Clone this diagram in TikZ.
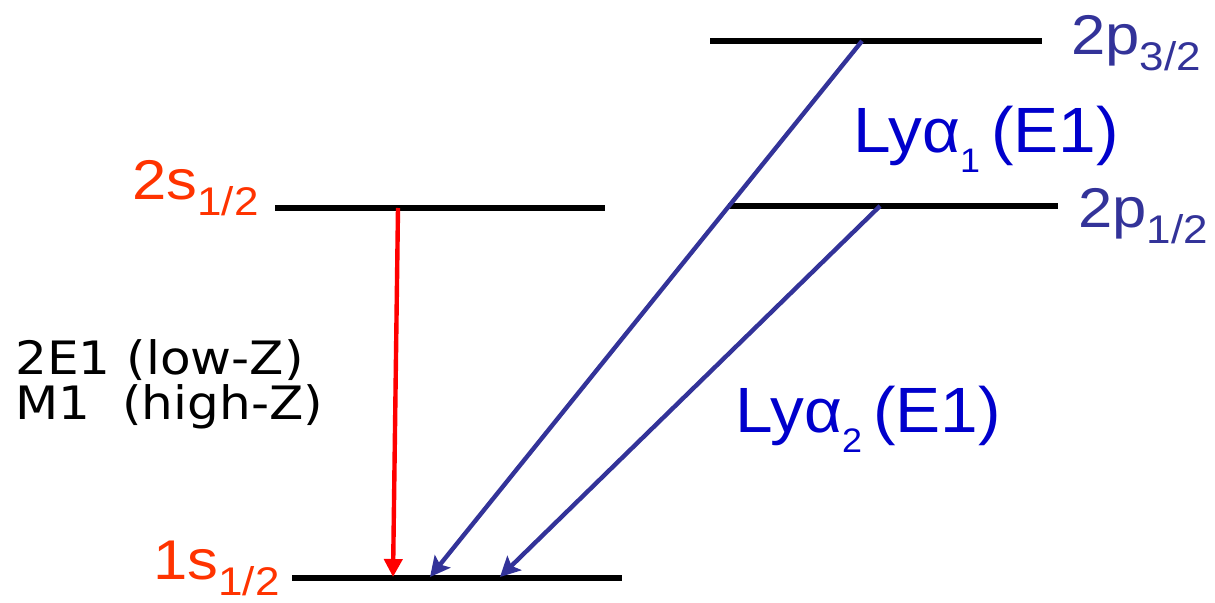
\documentclass[tikz,border=0pt]{standalone}
\usepackage{fontspec}
\usepackage{tikz}
\usetikzlibrary{arrows.meta}
\newfontfamily\arialfont{Liberation Sans}
\newfontfamily\verdfont{DejaVu Sans}
\definecolor{levred}{HTML}{FF3300}
\definecolor{levblue}{HTML}{333399}
\definecolor{lyblue}{HTML}{0000CC}
\newcommand{\lsub}[1]{\raisebox{-0.28em}{\fontsize{20}{22}\selectfont #1}}
\newcommand{\lysub}[1]{\raisebox{-0.3em}{\fontsize{17}{18}\selectfont #1}}

\begin{document}
\begin{tikzpicture}[x=0.5pt,y=-0.5pt,>=Stealth,
    level/.style={line width=3pt},
    trans/.style={->,line width=2.2pt},
    lab/.style={inner sep=0pt,anchor=base west,xscale=1.1,font=\arialfont\fontsize{28}{30}\selectfont}]
    \useasboundingbox (0,0) rectangle (1215,603);
    % levels
    \coordinate (s1l) at (292,578);  \coordinate (s1r) at (622,578);
    \coordinate (s2l) at (275,208);  \coordinate (s2r) at (605,208);
    \coordinate (pal) at (728,206);  \coordinate (par) at (1058,206);
    \coordinate (pbl) at (710,41);   \coordinate (pbr) at (1042,41);
    \draw [level] (s1l) -- (s1r);
    \draw [level] (s2l) -- (s2r);
    \draw [level] (pal) -- (par);
    \draw [level] (pbl) -- (pbr);
    % level labels
    \node [lab,text=levred] (s1lab) at (153,580) {1s\lsub{1/2}};
    \node [lab,text=levred] (s2lab) at (132,200) {2s\lsub{1/2}};
    \node [lab,text=levblue] (palab) at (1078,228) {2p\lsub{1/2}};
    \node [lab,text=levblue] (pblab) at (1071,55) {2p\lsub{3/2}};
    % transitions
    \coordinate (rtop) at (398,208);  \coordinate (rbot) at (393,577);
    \coordinate (atop) at (862,41);   \coordinate (abot) at (430,577);
    \coordinate (btop) at (880,206);  \coordinate (bbot) at (500,577);
    \draw [trans,red,-{Triangle[length=9pt,width=9pt]}] (rtop) -- (rbot);
    \draw [trans,levblue,-{Stealth[length=10pt,width=10pt,inset=2pt]}] (atop) -- (abot);
    \draw [trans,levblue,-{Stealth[length=10pt,width=10pt,inset=2pt]}] (btop) -- (bbot);
    % transition labels
    \node [lab,xscale=0.96,text=lyblue,font=\arialfont\fontsize{32}{34}\selectfont] (lya) at (853,153) {Ly{\fontsize{31}{32}\selectfont α}\lysub{1}\,(E1)};
    \node [lab,xscale=0.96,text=lyblue,font=\arialfont\fontsize{32}{34}\selectfont] (lyb) at (735,433) {Ly{\fontsize{31}{32}\selectfont α}\lysub{2}\,(E1)};
    \node [lab,xscale=0.99,font=\verdfont\fontsize{23}{25}\selectfont] (twoe) at (15,375) {2E1 (low-Z)};
    \node [lab,xscale=0.99,font=\verdfont\fontsize{23}{25}\selectfont] (mone) at (15,420) {M1\ \ (high-Z)};
\end{tikzpicture}
\end{document}
